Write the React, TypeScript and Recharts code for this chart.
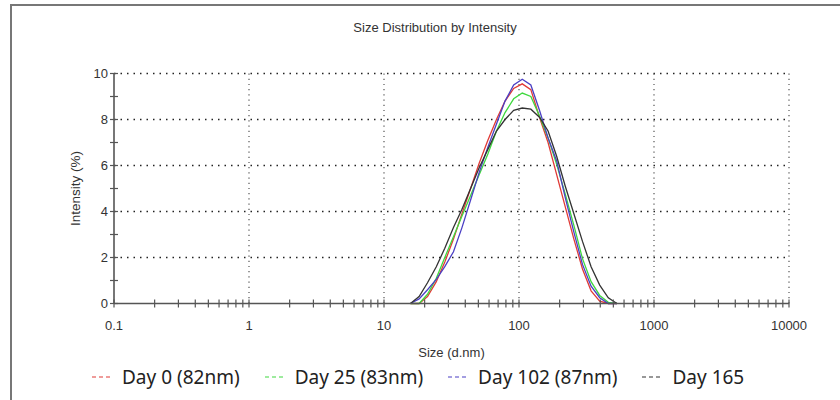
import React from 'react';
import { LineChart, Line, XAxis, YAxis, ReferenceLine } from 'recharts';

// size bins (d.nm), log spaced like the instrument output
const sizes = [15.7, 18.2, 21.0, 24.4, 28.2, 32.7, 37.8, 43.8, 50.7, 58.8, 68.1, 78.8, 91.3, 105.7, 122.4, 141.8, 164.2, 190.1, 220.2, 255.0, 295.3, 342.0, 396.1, 458.7, 531.2];

// intensity (%) per bin
const day0 = [0, 0, 0.3, 0.95, 1.8, 2.8, 3.9, 5.0, 6.1, 7.1, 8.0, 8.8, 9.35, 9.55, 9.3, 8.1, 7.0, 5.6, 4.2, 2.8, 1.5, 0.55, 0.1, 0, 0];
const day25 = [0, 0, 0.4, 1.1, 2.0, 2.9, 3.8, 4.7, 5.6, 6.5, 7.5, 8.3, 8.9, 9.15, 9.0, 8.15, 7.2, 6.05, 4.75, 3.4, 1.95, 0.95, 0.35, 0.05, 0];
const day102 = [0, 0.2, 0.6, 1.05, 1.6, 2.25, 3.3, 4.5, 5.7, 6.8, 7.8, 8.8, 9.5, 9.75, 9.5, 8.4, 7.2, 6.2, 4.6, 3.1, 1.7, 0.75, 0.25, 0, 0];
const day165 = [0, 0.3, 0.9, 1.6, 2.4, 3.3, 4.1, 5.0, 5.9, 6.7, 7.5, 8.0, 8.4, 8.5, 8.45, 8.1, 7.5, 6.4, 5.1, 3.9, 2.7, 1.6, 0.8, 0.25, 0];

const seriesNames = ['Day 0 (82nm)', 'Day 25 (83nm)', 'Day 102 (87nm)', 'Day 165'];
const seriesKeys = ['day0', 'day25', 'day102', 'day165'];
const seriesColors = ['#e03a36', '#3ed83e', '#4a3fc4', '#333333'];

const xMajor = [0.1, 1, 10, 100, 1000, 10000];
const yMajor = [0, 2, 4, 6, 8, 10];

const data = sizes.map((s, i) => ({
  size: s,
  day0: day0[i],
  day25: day25[i],
  day102: day102[i],
  day165: day165[i],
}));

// minor ticks 2..9 inside each decade
const xTicks: number[] = [];
xMajor.forEach((m, i) => {
  xTicks.push(m);
  if (i < xMajor.length - 1) {
    for (let k = 2; k <= 9; k++) xTicks.push(+(m * k).toPrecision(3));
  }
});
const yTicks = Array.from({ length: 11 }, (_, i) => i);

const axisColor = '#555';
const textColor = '#333';
const tickFont = '"Liberation Sans", Arial, sans-serif';

const XTick = (props: any) => {
  const { x, y, payload } = props;
  const isMajor = xMajor.includes(payload.value);
  return (
    <g>
      <line x1={x} x2={x} y1={y - 4} y2={y + 4} stroke={axisColor} strokeWidth={1.2} />
      {isMajor && (
        <text x={x} y={y + 26} textAnchor="middle" fontSize={13} fill={textColor} fontFamily={tickFont}>
          {payload.value}
        </text>
      )}
    </g>
  );
};

const YTick = (props: any) => {
  const { x, y, payload } = props;
  const isMajor = yMajor.includes(payload.value);
  return (
    <g>
      <line x1={x - 4} x2={x + 4} y1={y} y2={y} stroke={axisColor} strokeWidth={1.2} />
      {isMajor && (
        <text x={x - 6} y={y + 4.5} textAnchor="end" fontSize={13} fill={textColor} fontFamily={tickFont}>
          {payload.value}
        </text>
      )}
    </g>
  );
};

const XLabel = (props: any) => {
  const vb = props.viewBox;
  return (
    <text x={vb.x + vb.width / 2} y={vb.y + 53} textAnchor="middle" fontSize={13} fill={textColor} fontFamily={tickFont}>
      Size (d.nm)
    </text>
  );
};

const YLabel = (props: any) => {
  const vb = props.viewBox;
  const cx = 79.5;
  const cy = vb.y + vb.height / 2;
  return (
    <text x={cx} y={cy} transform={`rotate(-90 ${cx} ${cy})`} textAnchor="middle" fontSize={13.5} fill={textColor} fontFamily={tickFont}>
      Intensity (%)
    </text>
  );
};

const gridStyle = { stroke: '#222', strokeDasharray: '1.5 5', strokeWidth: 1.3 };

const App: React.FC = () => {
  return (
    <div style={{ position: 'absolute', left: 0, top: 0, width: 840, height: 400, background: '#fff', overflow: 'hidden' }}>
      <div
        style={{
          position: 'absolute',
          left: 10,
          top: 4,
          width: 840,
          height: 400,
          borderLeft: '2px solid #777',
          borderTop: '2px solid #777',
        }}
      />
      <div
        style={{
          position: 'absolute',
          left: 435,
          top: 20,
          transform: 'translateX(-50%)',
          fontFamily: tickFont,
          fontSize: 13,
          color: textColor,
          whiteSpace: 'nowrap',
        }}
      >
        Size Distribution by Intensity
      </div>
      <LineChart width={840} height={400} data={data} margin={{ top: 73.5, right: 51, bottom: 66.5, left: 54 }}>
        {yMajor.filter((v) => v > 0).map((v) => (
          <ReferenceLine key={'h' + v} y={v} {...gridStyle} />
        ))}
        {xMajor.filter((v) => v > 0.1).map((v) => (
          <ReferenceLine key={'v' + v} x={v} stroke="#555" strokeDasharray="1.2 4" strokeWidth={1.2} />
        ))}
        <XAxis
          dataKey="size"
          type="number"
          scale="log"
          domain={[0.1, 10000]}
          allowDataOverflow
          ticks={xTicks}
          interval={0}
          height={30}
          tickSize={0}
          tickMargin={0}
          tickLine={false}
          tick={<XTick />}
          axisLine={{ stroke: axisColor, strokeWidth: 1.6 }}
          label={{ content: <XLabel /> }}
        />
        <YAxis
          type="number"
          domain={[0, 10]}
          ticks={yTicks}
          interval={0}
          width={60}
          tickSize={0}
          tickMargin={0}
          tickLine={false}
          tick={<YTick />}
          axisLine={{ stroke: axisColor, strokeWidth: 1.6 }}
          label={{ content: <YLabel /> }}
        />
        {seriesKeys.map((k, i) => (
          <Line
            key={k}
            type="linear"
            dataKey={k}
            name={seriesNames[i]}
            stroke={seriesColors[i]}
            strokeWidth={1.3}
            dot={false}
            isAnimationActive={false}
          />
        ))}
      </LineChart>
      <div
        style={{
          position: 'absolute',
          left: 92,
          top: 364,
          display: 'flex',
          alignItems: 'center',
          gap: 25,
          fontFamily: '"Noto Sans", sans-serif',
          fontSize: 19,
          color: '#222',
          whiteSpace: 'nowrap',
        }}
      >
        {seriesNames.map((n, i) => (
          <div key={n} style={{ display: 'flex', alignItems: 'center' }}>
            <svg width={20} height={6} style={{ marginRight: 10 }}>
              <line x1={0} x2={20} y1={3} y2={3} stroke={seriesColors[i]} strokeWidth={1.2} strokeDasharray="4 3" />
            </svg>
            <span>{n}</span>
          </div>
        ))}
      </div>
    </div>
  );
};

export default App;
